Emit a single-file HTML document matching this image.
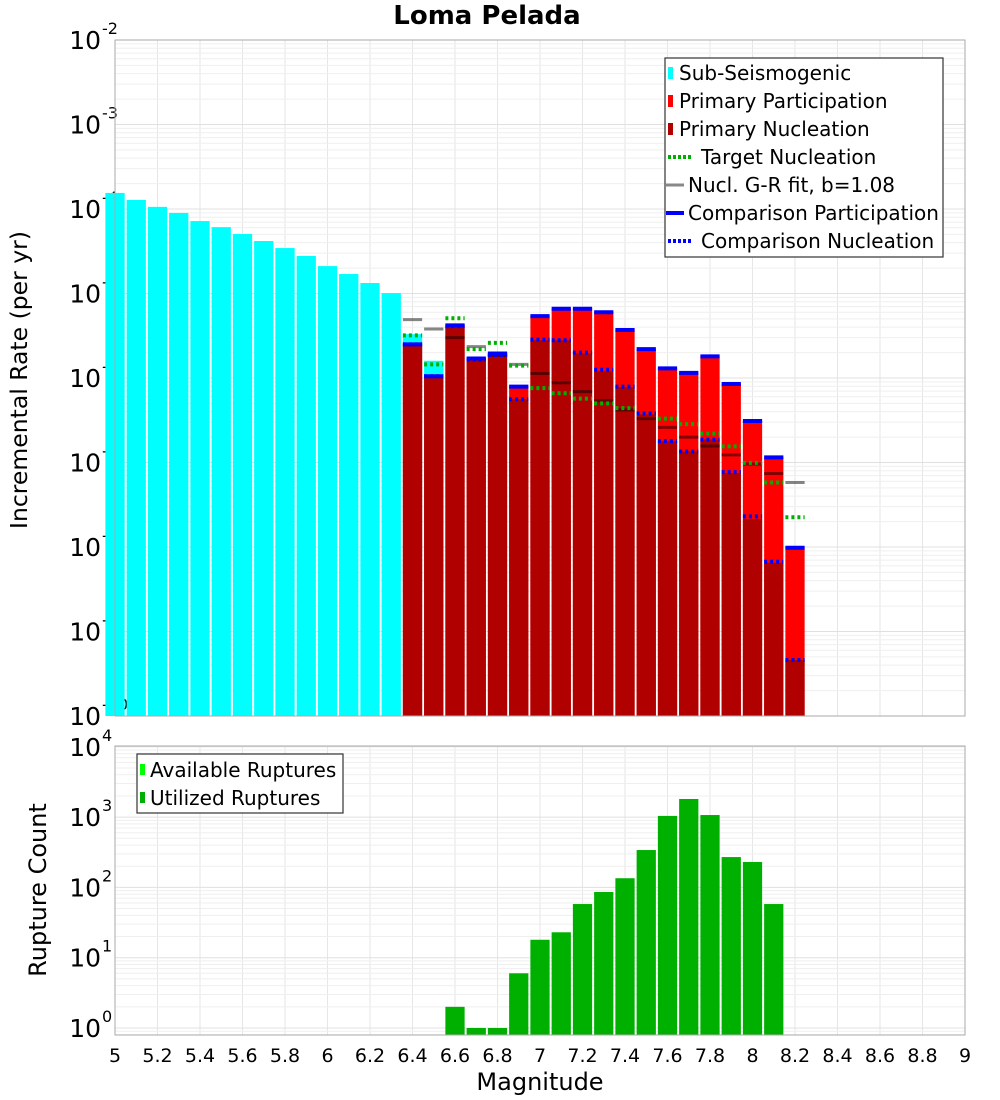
<!DOCTYPE html>
<html><head><meta charset="utf-8"><style>
body{margin:0;background:#fff;}
svg{display:block;font-family:"DejaVu Sans","Liberation Sans",sans-serif;}
</style></head><body>
<svg id="chart" width="1000" height="1100" viewBox="0 0 1000 1100">
<text x="487" y="24" text-anchor="middle" font-size="26" font-weight="bold">Loma Pelada</text>
<g id="topPlot"></g>
<g id="botPlot"></g>
<text transform="translate(27,380) rotate(-90)" text-anchor="middle" font-size="23.5">Incremental Rate (per yr)</text>
<text transform="translate(46,890) rotate(-90)" text-anchor="middle" font-size="24">Rupture Count</text>
<text x="540" y="1090" text-anchor="middle" font-size="24">Magnitude</text>
<g>
<rect x="665" y="58" width="278" height="199" fill="#fff" stroke="#333" stroke-width="1.2"/>
<rect x="668" y="67" width="5" height="12" fill="#00ffff"/><text x="679" y="80" font-size="20">Sub-Seismogenic</text>
<rect x="668" y="95" width="5" height="12" fill="#ff0000"/><text x="679" y="108" font-size="20">Primary Participation</text>
<rect x="668" y="123" width="5" height="12" fill="#b00000"/><text x="679" y="136" font-size="20">Primary Nucleation</text>
<line x1="668" y1="157" x2="693" y2="157" stroke="#00b000" stroke-width="4" stroke-dasharray="3,2"/><text x="701" y="164" font-size="20">Target Nucleation</text>
<line x1="666" y1="185" x2="684" y2="185" stroke="#888" stroke-width="3"/><text x="688" y="192" font-size="20">Nucl. G-R fit, b=1.08</text>
<line x1="666" y1="213" x2="684" y2="213" stroke="#0000ff" stroke-width="4"/><text x="688" y="220" font-size="20">Comparison Participation</text>
<line x1="668" y1="241" x2="693" y2="241" stroke="#0000ff" stroke-width="4" stroke-dasharray="3,2"/><text x="701" y="248" font-size="20">Comparison Nucleation</text>
</g>
<g>
<rect x="137" y="754" width="206" height="59" fill="#fff" stroke="#333" stroke-width="1.2"/>
<rect x="140" y="764" width="5" height="11" fill="#00ff00"/><text x="150" y="777" font-size="20">Available Ruptures</text>
<rect x="140" y="792" width="5" height="11" fill="#00b000"/><text x="150" y="805" font-size="20">Utilized Ruptures</text>
</g>
</svg>
<script>
const subMags=[5.0,5.1,5.2,5.3,5.4,5.5,5.6,5.7,5.8,5.9,6.0,6.1,6.2,6.3,6.4,6.5];
const subRates=[1.55e-4,1.28e-4,1.06e-4,8.98e-5,7.2e-5,6.1e-5,5.06e-5,4.18e-5,3.45e-5,2.78e-5,2.11e-5,1.70e-5,1.33e-5,1.01e-5,3.3e-6,1.6e-6];
const supraMags=[6.4,6.5,6.6,6.7,6.8,6.9,7.0,7.1,7.2,7.3,7.4,7.5,7.6,7.7,7.8,7.9,8.0,8.1,8.2];
const partRates=[2.5e-6,1.05e-6,4.2e-6,1.7e-6,1.95e-6,7.9e-7,5.4e-6,6.6e-6,6.6e-6,6.0e-6,3.7e-6,2.2e-6,1.3e-6,1.15e-6,1.8e-6,8.5e-7,3.1e-7,1.15e-7,9.8e-9];
const nuclRates=[2.5e-6,1.05e-6,4.1e-6,1.65e-6,1.9e-6,5.6e-7,2.8e-6,2.8e-6,1.95e-6,1.2e-6,7.8e-7,3.7e-7,1.79e-7,1.36e-7,1.87e-7,7.5e-8,2.15e-8,6.5e-9,4.6e-10];
const compNucl=[2.5e-6,1.05e-6,4.1e-6,1.65e-6,1.88e-6,5.6e-7,2.85e-6,2.8e-6,2.0e-6,1.25e-6,7.9e-7,3.8e-7,1.79e-7,1.35e-7,1.86e-7,7.7e-8,2.3e-8,6.7e-9,4.6e-10];
const targetNucl=[3.2e-6,1.45e-6,5.1e-6,2.2e-6,2.6e-6,1.4e-6,7.6e-7,6.6e-7,5.7e-7,5.0e-7,4.4e-7,3.8e-7,3.3e-7,2.85e-7,2.2e-7,1.55e-7,9.9e-8,5.8e-8,2.25e-8];
const grFit=[4.9e-6,3.8e-6,3.0e-6,2.35e-6,1.85e-6,1.45e-6,1.13e-6,8.8e-7,6.9e-7,5.4e-7,4.2e-7,3.3e-7,2.6e-7,2.0e-7,1.57e-7,1.23e-7,9.6e-8,7.4e-8,5.8e-8];
const countMags=[6.6,6.7,6.8,6.9,7.0,7.1,7.2,7.3,7.4,7.5,7.6,7.7,7.8,7.9,8.0,8.1];
const counts=[2,1,1,6,18,23,58,86,135,340,1040,1810,1070,270,230,58];
const xTicks=[5,5.2,5.4,5.6,5.8,6,6.2,6.4,6.6,6.8,7,7.2,7.4,7.6,7.8,8,8.2,8.4,8.6,8.8,9];
const topExps=[-10,-9,-8,-7,-6,-5,-4,-3,-2];
const botExps=[0,1,2,3,4];
{
const NS="http://www.w3.org/2000/svg";
const X0=115,X1=965;
const x=m=>X0+(m-5)*(X1-X0)/4;
const yTop=v=>40+(-2-Math.log10(v))*84.5;
const yBot=v=>1028-Math.log10(v)*70.3;
function mk(parent,tag,attrs){const e=document.createElementNS(NS,tag);for(const k in attrs)e.setAttribute(k,attrs[k]);parent.appendChild(e);return e;}
const topG=document.getElementById('topPlot'),botG=document.getElementById('botPlot');

function grid(g,y0,y1,exps,yf){
  mk(g,'rect',{x:X0,y:y0,width:X1-X0,height:y1-y0,fill:'#fff'});
  for(const m of xTicks){mk(g,'line',{x1:x(m),x2:x(m),y1:y0,y2:y1,stroke:'#e6e6e6','stroke-width':1});}
  for(const e of exps.concat([exps[0]-1])){
    for(let k=1;k<10;k++){const v=k*Math.pow(10,e);const yy=yf(v);if(yy<y0-0.5||yy>y1+0.5)continue;
      mk(g,'line',{x1:X0,x2:X1,y1:yy,y2:yy,stroke:k==1?'#e0e0e0':'#efefef','stroke-width':1});}
  }
}
grid(topG,40,716,topExps,yTop);
grid(botG,746,1035,botExps,yBot);

function tickLabels(g,exps,yf,nm){
  for(const e of exps){const yy=yf(Math.pow(10,e));
    const t=mk(g,'text',{x:101,y:yy+9,'text-anchor':'end','font-size':25});
    
    
    t.textContent='10';
    const s=mk(g,'text',{x:102,y:yy-6,'font-size':16});
    
    
    s.textContent=String(e);
  }
}
tickLabels(topG,topExps,yTop,'y-tick-rate');
tickLabels(botG,botExps,yBot,'y-tick-count');

const W=(X1-X0)/40;
function bar(g,m,v,yf,base,fill,nm){
  const yy=yf(v);
  const r=mk(g,'rect',{x:x(m-0.05)+1,y:yy,width:W-2,height:Math.max(0,base-yy),fill:fill});
  
  
}
subMags.forEach((m,i)=>bar(topG,m,subRates[i],yTop,716,'#00ffff','bar-sub-seismogenic'));
supraMags.forEach((m,i)=>bar(topG,m,partRates[i],yTop,716,'#ff0000','bar-primary-participation'));
supraMags.forEach((m,i)=>bar(topG,m,nuclRates[i],yTop,716,'#b00000','bar-primary-nucleation'));
function seg(g,m,v,stroke,sw,dash,nm){
  const yy=yTop(v);
  const l=mk(g,'line',{x1:x(m-0.05)+1,x2:x(m+0.05)-1,y1:yy,y2:yy,stroke:stroke,'stroke-width':sw});
  if(dash)l.setAttribute('stroke-dasharray',dash);
  
  
}
supraMags.forEach((m,i)=>seg(topG,m,grFit[i],'rgba(0,0,0,0.48)',3,null,'gr-fit-segment'));
supraMags.forEach((m,i)=>seg(topG,m,targetNucl[i],'#00b000',4,'3,3','target-nucleation-segment'));
supraMags.forEach((m,i)=>seg(topG,m,partRates[i],'#0000ff',4,null,'comparison-participation-segment'));
supraMags.forEach((m,i)=>seg(topG,m,compNucl[i],'#0000ff',4,'3,3','comparison-nucleation-segment'));
countMags.forEach((m,i)=>bar(botG,m,counts[i],yBot,1035,'#00b000','bar-rupture-count'));

mk(topG,'rect',{x:X0,y:40,width:X1-X0,height:676,fill:'none',stroke:'#aaa','stroke-width':1});
mk(botG,'rect',{x:X0,y:746,width:X1-X0,height:289,fill:'none',stroke:'#aaa','stroke-width':1});
for(const m of xTicks){
  const t=mk(botG,'text',{x:x(m),y:1062,'text-anchor':'middle','font-size':19});
  
  
  t.textContent=String(m);
}
}
</script>
</body></html>
